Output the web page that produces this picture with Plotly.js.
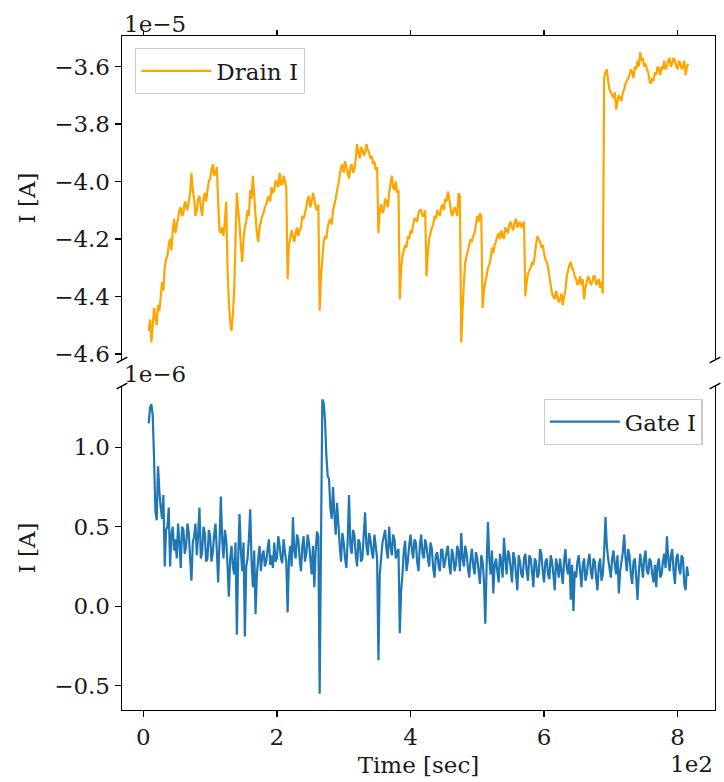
<!DOCTYPE html>
<html>
<head>
<meta charset="utf-8">
<script src="https://cdn.plot.ly/plotly-3.0.1.min.js"></script>
<style>html,body{margin:0;padding:0;background:#fff;}#chart{width:724px;height:782px;}</style>
</head>
<body>
<div id="chart"></div>
<script>
// Sample times [sec]
const timeSec = [
8,10,12,14,16,18,20,22,24,26,28,30,32,34,36,38,40,42,44,46,
48,50,52,54,56,58,60,62,64,66,68,70,72,74,76,78,80,82,84,86,
88,90,92,94,96,98,100,102,104,106,108,110,112,114,116,118,120,122,124,126,
128,130,132,134,136,138,140,142,144,146,148,150,152,154,156,158,160,162,164,166,
168,170,172,174,176,178,180,182,184,186,188,190,192,194,196,198,200,202,204,206,
208,210,212,214,216,218,220,222,224,226,228,230,232,234,236,238,240,242,244,246,
248,250,252,254,256,258,260,262,264,266,268,270,272,274,276,278,280,282,284,286,
288,290,292,294,296,298,300,302,304,306,308,310,312,314,316,318,320,322,324,326,
328,330,332,334,336,338,340,342,344,346,348,350,352,354,356,358,360,362,364,366,
368,370,372,374,376,378,380,382,384,386,388,390,392,394,396,398,400,402,404,406,
408,410,412,414,416,418,420,422,424,426,428,430,432,434,436,438,440,442,444,446,
448,450,452,454,456,458,460,462,464,466,468,470,472,474,476,478,480,482,484,486,
488,490,492,494,496,498,500,502,504,506,508,510,512,514,516,518,520,522,524,526,
528,530,532,534,536,538,540,542,544,546,548,550,552,554,556,558,560,562,564,566,
568,570,572,574,576,578,580,582,584,586,588,590,592,594,596,598,600,602,604,606,
608,610,612,614,616,618,620,622,624,626,628,630,632,634,636,638,640,642,644,646,
648,650,652,654,656,658,660,662,664,666,668,670,672,674,676,678,680,682,684,686,
688,690,692,694,696,698,700,702,704,706,708,710,712,714,716,718,720,722,724,726,
728,730,732,734,736,738,740,742,744,746,748,750,752,754,756,758,760,762,764,766,
768,770,772,774,776,778,780,782,784,786,788,790,792,794,796,798,800,802,804,806,
808,810,812,814,816
];

// Drain current, in units of 1e-5 A
const drainI = [
-4.52,-4.48,-4.56,-4.50,-4.44,-4.47,-4.50,-4.43,-4.45,-4.40,-4.35,-4.38,-4.30,-4.27,-4.26,-4.22,-4.20,-4.24,-4.17,-4.13,
-4.18,-4.15,-4.13,-4.10,-4.09,-4.12,-4.11,-4.07,-4.08,-4.10,-4.07,-4.04,-3.97,-4.03,-4.06,-4.12,-4.10,-4.06,-4.05,-4.09,
-4.12,-4.06,-4.04,-4.07,-4.03,-4.00,-3.99,-3.96,-3.94,-3.98,-3.97,-3.95,-4.07,-4.17,-4.18,-4.16,-4.19,-4.14,-4.07,-4.30,
-4.42,-4.49,-4.52,-4.46,-4.38,-4.20,-4.04,-4.10,-4.15,-4.22,-4.28,-4.20,-4.16,-4.14,-4.10,-4.12,-4.03,-4.06,-3.98,-4.05,
-4.12,-4.18,-4.21,-4.16,-4.14,-4.12,-4.11,-4.09,-4.08,-4.06,-4.05,-4.07,-4.02,-4.04,-4.03,-4.00,-4.00,-4.02,-3.97,-4.01,
-4.01,-3.98,-4.00,-4.02,-4.34,-4.22,-4.20,-4.17,-4.19,-4.21,-4.18,-4.16,-4.19,-4.17,-4.16,-4.12,-4.13,-4.11,-4.09,-4.06,
-4.05,-4.09,-4.07,-4.04,-4.06,-4.09,-4.10,-4.08,-4.45,-4.33,-4.27,-4.21,-4.19,-4.20,-4.16,-4.14,-4.13,-4.15,-4.10,-4.08,
-4.06,-4.03,-4.01,-3.98,-3.95,-3.94,-3.97,-3.93,-3.95,-3.97,-3.99,-3.95,-3.94,-3.97,-3.96,-3.92,-3.87,-3.90,-3.92,-3.88,
-3.89,-3.91,-3.90,-3.87,-3.89,-3.90,-3.92,-3.91,-3.94,-3.93,-3.96,-3.95,-4.18,-4.10,-4.08,-4.11,-4.10,-4.06,-4.07,-4.09,
-4.04,-4.01,-3.98,-4.02,-4.03,-4.00,-4.04,-4.03,-4.41,-4.30,-4.26,-4.24,-4.22,-4.23,-4.19,-4.20,-4.17,-4.18,-4.15,-4.13,
-4.13,-4.14,-4.11,-4.10,-4.10,-4.12,-4.12,-4.10,-4.33,-4.25,-4.20,-4.18,-4.16,-4.15,-4.12,-4.13,-4.10,-4.11,-4.12,-4.09,
-4.08,-4.10,-4.06,-4.07,-4.035,-4.06,-4.09,-4.12,-4.11,-4.09,-4.10,-4.12,-4.04,-4.05,-4.56,-4.45,-4.35,-4.28,-4.26,-4.24,
-4.22,-4.20,-4.21,-4.19,-4.18,-4.15,-4.12,-4.14,-4.11,-4.12,-4.44,-4.38,-4.35,-4.33,-4.30,-4.29,-4.27,-4.23,-4.25,-4.22,
-4.21,-4.19,-4.18,-4.20,-4.17,-4.19,-4.20,-4.16,-4.17,-4.18,-4.15,-4.14,-4.16,-4.17,-4.14,-4.13,-4.16,-4.15,-4.14,-4.16,
-4.15,-4.14,-4.40,-4.35,-4.32,-4.31,-4.30,-4.28,-4.29,-4.26,-4.22,-4.19,-4.20,-4.21,-4.23,-4.22,-4.25,-4.27,-4.28,-4.30,
-4.33,-4.36,-4.39,-4.40,-4.41,-4.38,-4.40,-4.42,-4.41,-4.39,-4.43,-4.40,-4.38,-4.33,-4.31,-4.29,-4.28,-4.30,-4.31,-4.33,
-4.34,-4.36,-4.35,-4.33,-4.36,-4.34,-4.41,-4.37,-4.35,-4.33,-4.34,-4.36,-4.35,-4.33,-4.33,-4.36,-4.35,-4.34,-4.37,-4.35,
-4.39,-3.64,-3.62,-3.61,-3.65,-3.68,-3.69,-3.70,-3.71,-3.69,-3.75,-3.72,-3.70,-3.71,-3.72,-3.69,-3.68,-3.66,-3.65,-3.64,
-3.63,-3.61,-3.62,-3.64,-3.60,-3.61,-3.58,-3.60,-3.55,-3.58,-3.57,-3.60,-3.59,-3.61,-3.62,-3.65,-3.66,-3.64,-3.65,-3.62,
-3.63,-3.60,-3.61,-3.63,-3.60,-3.61,-3.58,-3.61,-3.60,-3.58,-3.57,-3.60,-3.59,-3.57,-3.58,-3.60,-3.61,-3.58,-3.59,-3.61,
-3.60,-3.58,-3.63,-3.60,-3.59
];

// Gate current, in units of 1e-6 A
const gateI = [
1.15,1.25,1.27,1.20,0.93,0.60,0.54,0.88,0.72,0.62,0.55,0.70,0.25,0.48,0.50,0.62,0.25,0.45,0.50,0.35,
0.42,0.30,0.52,0.40,0.24,0.50,0.48,0.33,0.38,0.52,0.46,0.30,0.16,0.40,0.44,0.52,0.32,0.45,0.62,0.30,
0.34,0.50,0.46,0.28,0.30,0.48,0.44,0.28,0.34,0.45,0.52,0.35,0.15,0.40,0.69,0.42,0.30,0.48,0.42,0.26,
0.06,0.30,0.38,0.25,0.20,0.40,-0.18,0.30,0.58,0.35,0.22,0.40,-0.19,0.25,0.30,0.42,0.61,0.28,0.12,0.35,
-0.05,0.20,0.30,0.38,0.22,0.32,0.35,0.25,0.28,0.36,0.42,0.26,0.32,0.24,0.40,0.28,0.30,0.44,0.38,0.30,
0.27,0.42,0.34,0.28,-0.04,0.30,0.38,0.25,0.56,0.35,0.30,0.45,0.42,0.30,0.22,0.38,0.44,0.28,0.33,0.45,
0.40,0.30,0.20,0.38,0.12,0.35,0.47,0.44,-0.55,0.40,1.30,1.28,1.17,0.95,0.82,0.80,0.62,0.55,0.75,0.58,
0.45,0.65,0.52,0.38,0.28,0.46,0.40,0.30,0.24,0.42,0.70,0.38,0.33,0.48,0.45,0.32,0.25,0.42,0.40,0.28,
0.30,0.45,0.59,0.38,0.32,0.46,0.42,0.34,0.30,0.45,0.38,0.30,-0.34,0.20,0.30,0.40,0.44,0.48,0.36,0.30,
0.50,0.38,0.32,0.45,0.42,0.30,0.34,0.36,-0.17,0.10,0.20,0.35,0.41,0.22,0.28,0.38,0.45,0.36,0.30,0.42,
0.40,0.28,0.22,0.38,0.45,0.33,0.30,0.42,0.38,0.30,0.25,0.40,0.36,0.24,0.18,0.32,0.34,0.26,0.22,0.36,
0.35,0.24,0.28,0.34,0.38,0.26,0.20,0.36,0.32,0.22,0.26,0.38,0.34,0.22,0.46,0.30,0.25,0.38,0.33,0.24,
0.18,0.30,0.36,0.25,0.20,0.34,0.30,0.22,0.14,0.32,0.28,0.16,-0.11,0.25,0.53,0.30,0.20,0.35,0.08,0.26,
0.30,0.22,0.15,0.33,0.28,0.18,0.43,0.30,0.20,0.35,0.32,0.24,0.15,0.34,0.30,0.20,0.10,0.32,0.28,0.20,
0.18,0.30,0.33,0.22,0.16,0.32,0.30,0.22,0.12,0.30,0.28,0.18,0.20,0.36,0.33,0.22,0.15,0.28,0.30,0.20,
0.17,0.32,0.28,0.20,0.10,0.30,0.25,0.18,0.30,0.22,0.14,0.28,0.36,0.24,0.20,0.30,0.04,0.26,-0.03,0.22,
0.18,0.28,0.32,0.22,0.12,0.26,0.30,0.16,0.20,0.28,0.33,0.22,0.17,0.30,0.28,0.18,0.10,0.26,0.30,0.16,
0.20,0.34,0.56,0.38,0.30,0.24,0.18,0.30,0.35,0.26,0.20,0.32,0.08,0.22,0.28,0.34,0.45,0.30,0.22,0.36,
0.32,0.20,0.14,0.28,0.30,0.18,0.04,0.22,0.33,0.26,0.18,0.30,0.35,0.22,0.20,0.30,0.28,0.20,0.15,0.26,
0.12,0.26,0.30,0.18,0.20,0.28,0.33,0.24,0.44,0.30,0.22,0.32,0.36,0.22,0.14,0.30,0.33,0.24,0.20,0.32,
0.30,0.14,0.10,0.25,0.19
];

const xTickVals = [0, 200, 400, 600, 800];
const xTickText = ["0", "2", "4", "6", "8"];
const drainYTicks = [-4.6, -4.4, -4.2, -4.0, -3.8, -3.6];
const gateYTicks = [-0.5, 0.0, 0.5, 1.0];

const FONT = "DejaVu Serif, Liberation Serif, serif";
const TXT = "#1a1a1a";
const FS = 23;

const traces = [
  {x: timeSec, y: drainI, type: "scatter", mode: "lines", name: "Drain I",
   xaxis: "x2", yaxis: "y2", legend: "legend",
   line: {color: "#FFA500", width: 2.2, simplify: false}},
  {x: timeSec, y: gateI, type: "scatter", mode: "lines", name: "Gate I",
   xaxis: "x", yaxis: "y", legend: "legend2",
   line: {color: "#1f77b4", width: 2.2, simplify: false}}
];

const axCommon = {
  showgrid: false, zeroline: false, showline: true, linecolor: "#000", linewidth: 1.4,
  ticks: "outside", ticklen: 6, tickwidth: 1.3, tickcolor: "#000",
  tickfont: {family: FONT, size: FS, color: TXT}
};

const breakD = 0.009;
const brk = (xr, yr, xc, yc) => ({type: "line", xref: xr, yref: yr,
  x0: xc - breakD, x1: xc + breakD, y0: yc - breakD, y1: yc + breakD,
  line: {color: "#000", width: 1.4}});

const legendStyle = {bgcolor: "rgba(255,255,255,0.8)", bordercolor: "#cccccc", borderwidth: 1.3,
  itemwidth: 70, font: {family: FONT, size: FS, color: TXT}};

const layout = {
  width: 724, height: 782,
  margin: {l: 122, r: 9, t: 36, b: 72},
  paper_bgcolor: "#fff", plot_bgcolor: "#fff",
  font: {family: FONT, size: FS, color: TXT},
  showlegend: true,
  xaxis: Object.assign({}, axCommon, {
    anchor: "y", range: [-32, 856], tickvals: xTickVals, ticktext: xTickText,
    title: {text: "Time [sec]", font: {family: FONT, size: FS, color: TXT}, standoff: 8}
  }),
  yaxis: Object.assign({}, axCommon, {
    anchor: "x", domain: [0, 0.4807], range: [-0.653, 1.385], mirror: true,
    tickvals: gateYTicks, tickformat: ".1f",
    title: {text: "I [A]", font: {family: FONT, size: FS, color: TXT}, standoff: 12}
  }),
  xaxis2: Object.assign({}, axCommon, {
    anchor: "y2", side: "top", range: [-32, 856], tickvals: xTickVals,
    showticklabels: false, ticklen: 5, matches: "x"
  }),
  yaxis2: Object.assign({}, axCommon, {
    anchor: "x2", domain: [0.5193, 1], range: [-4.621, -3.494], mirror: true,
    tickvals: drainYTicks, tickformat: ".1f",
    title: {text: "I [A]", font: {family: FONT, size: FS, color: TXT}, standoff: 12}
  }),
  legend: Object.assign({x: 0.022, y: 0.982, xanchor: "left", yanchor: "top"}, legendStyle),
  legend2: Object.assign({x: 0.979, y: 0.4615, xanchor: "right", yanchor: "top"}, legendStyle),
  annotations: [
    {text: "1e\u22125", xref: "x2 domain", yref: "y2 domain", x: 0, y: 1,
     xanchor: "left", yanchor: "bottom", showarrow: false, yshift: -3,
     font: {family: FONT, size: FS, color: TXT}},
    {text: "1e\u22126", xref: "x domain", yref: "y domain", x: 0, y: 1,
     xanchor: "left", yanchor: "bottom", showarrow: false, yshift: -3,
     font: {family: FONT, size: FS, color: TXT}},
    {text: "1e2", xref: "x domain", yref: "y domain", x: 1, y: 0,
     xanchor: "right", yanchor: "top", showarrow: false, yshift: -39,
     font: {family: FONT, size: FS, color: TXT}}
  ],
  shapes: [
    brk("x2 domain", "y2 domain", 0, 0),
    brk("x2 domain", "y2 domain", 1, 0),
    brk("x domain", "y domain", 0, 1),
    brk("x domain", "y domain", 1, 1)
  ]
};

Plotly.newPlot("chart", traces, layout, {displayModeBar: false, staticPlot: true});
</script>
</body>
</html>
